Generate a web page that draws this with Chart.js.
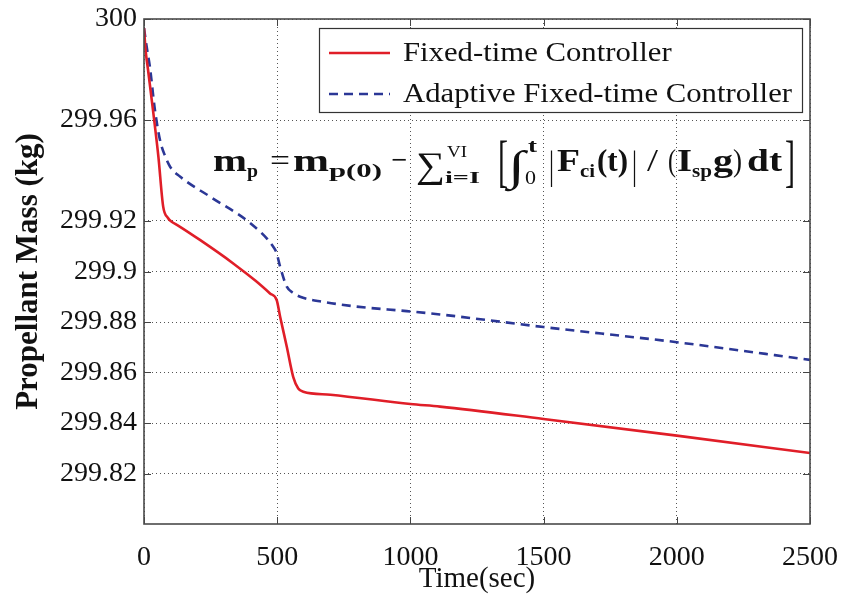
<!DOCTYPE html>
<html><head><meta charset="utf-8">
<script src="https://cdn.jsdelivr.net/npm/chart.js@4"></script>
<style>html,body{margin:0;padding:0;background:#fff}#wrap{width:844px;height:598px}</style>
</head><body><div id="wrap"><canvas id="c" width="844" height="598"></canvas></div>
<script>
// ---- data ----
const fixedTime = [0, 6, 15, 35, 54, 72, 90, 104, 125, 210, 335, 420, 473, 498, 511, 536, 560, 579, 598, 700, 1000, 1111, 1500, 2000, 2500];
const fixedMass = [299.9964, 299.9877, 299.980, 299.9628, 299.9455, 299.9257, 299.9212, 299.9197, 299.9184, 299.9125, 299.9032, 299.8962, 299.8913, 299.8887, 299.8821, 299.8702, 299.8583, 299.8537, 299.8524, 299.8512, 299.8475, 299.8465, 299.8416, 299.8350, 299.8281];
const adaptiveTime = [0, 10, 22, 41, 60, 80, 98, 135, 250, 398, 485, 498, 511, 536, 560, 586, 672, 798, 986, 1111, 1500, 2000, 2500];
const adaptiveMass = [299.9964, 299.989, 299.9811, 299.964, 299.9521, 299.9455, 299.9415, 299.9376, 299.9295, 299.9192, 299.9098, 299.9072, 299.9019, 299.894, 299.8915, 299.890, 299.888, 299.8861, 299.8843, 299.8830, 299.878, 299.872, 299.865];
const seriesNames = ['Fixed-time Controller', 'Adaptive Fixed-time Controller'];
const xTickValues = [0, 500, 1000, 1500, 2000, 2500];
const xTickLabels = ['0', '500', '1000', '1500', '2000', '2500'];
const yTickValues = [299.82, 299.84, 299.86, 299.88, 299.9, 299.92, 299.96, 300];
const yTickLabels = ['299.82', '299.84', '299.86', '299.88', '299.9', '299.92', '299.96', '300'];
const xTitle = 'Time(sec)';
const yTitle = 'Propellant Mass (kg)';

const SERIF = "'Liberation Serif','DejaVu Serif',serif";
const RED = '#e01e28';
const BLUE = '#2b3796';

const toXY = (ts, vs) => ts.map((t, i) => ({x: t, y: vs[i]}));

// formula pieces: text, x start, x end, font, baseline
const formulaPieces = [
  ['m', 213, 247, 'bold 31px', 171],
  ['p', 247, 258, 'bold 19px', 177],
  ['=', 270, 290, '32px', 171],
  ['m', 293, 329, 'bold 31px', 171],
  ['p(0)', 329, 382, 'bold 19px', 177],
  ['\u2212', 391, 407, '34px', 171],
  ['\u2211', 416, 445, '36px', 177],
  ['VI', 447, 467, '17px', 157],
  ['i=I', 445, 480, 'bold 17px', 183],
  ['[', 498, 508, '58px', 180],
  ['\u222B', 508, 525, '42px', 180],
  ['t', 528, 537, 'bold 18px', 152],
  ['0', 525, 536, '19px', 184],
  ['|', 549, 554, '40px', 178],
  ['F', 557, 580, 'bold 31px', 171],
  ['ci', 580, 595, 'bold 19px', 177],
  ['(t)', 597, 628, 'bold 31px', 171],
  ['|', 632, 637, '40px', 178],
  ['/', 647, 658, '31px', 171],
  ['(', 668, 676, '31px', 171],
  ['I', 677, 692, 'bold 31px', 171],
  ['sp', 692, 712, 'bold 19px', 177],
  ['g', 713, 733, 'bold 31px', 171],
  [')', 733, 742, '31px', 171],
  ['dt', 747, 782, 'bold 31px', 171],
  [']', 785, 795, '58px', 180]
];

const overlayPlugin = {
  id: 'overlay',
  afterDraw(chart) {
    const ctx = chart.ctx;
    const a = chart.chartArea;
    const xs = chart.scales.x, ys = chart.scales.y;
    ctx.save();
    // inward ticks
    ctx.strokeStyle = '#444'; ctx.lineWidth = 1;
    ctx.beginPath();
    xTickValues.forEach(v => {
      const px = Math.round(xs.getPixelForValue(v)) + 0.5;
      ctx.moveTo(px, a.bottom); ctx.lineTo(px, a.bottom - 7);
      ctx.moveTo(px, a.top); ctx.lineTo(px, a.top + 7);
    });
    yTickValues.forEach(v => {
      const py = Math.round(ys.getPixelForValue(v)) + 0.5;
      ctx.moveTo(a.left, py); ctx.lineTo(a.left + 7, py);
      ctx.moveTo(a.right, py); ctx.lineTo(a.right - 7, py);
    });
    ctx.stroke();
    // frame
    ctx.strokeStyle = '#4a4a4a'; ctx.lineWidth = 1.6;
    ctx.strokeRect(a.left, a.top, a.right - a.left, a.bottom - a.top);

    // legend
    const L = {x0: 319, y0: 28, x1: 802, y1: 112};
    ctx.fillStyle = '#fff';
    ctx.fillRect(L.x0, L.y0, L.x1 - L.x0, L.y1 - L.y0);
    ctx.strokeStyle = '#333'; ctx.lineWidth = 1.2;
    ctx.strokeRect(L.x0 + 0.5, L.y0 + 0.5, L.x1 - L.x0, L.y1 - L.y0);
    const rows = [
      {y: 53, color: RED, dash: []},
      {y: 94, color: BLUE, dash: [9, 6]}
    ];
    ctx.font = '27px ' + SERIF;
    const sx = 389 / ctx.measureText(seriesNames[1]).width;
    rows.forEach((r, i) => {
      ctx.strokeStyle = r.color; ctx.lineWidth = 2.5; ctx.setLineDash(r.dash);
      ctx.beginPath(); ctx.moveTo(329, r.y); ctx.lineTo(390, r.y); ctx.stroke();
      ctx.setLineDash([]);
      ctx.save();
      ctx.translate(403, r.y + 1);
      ctx.scale(sx, 1);
      ctx.fillStyle = '#111'; ctx.textBaseline = 'middle'; ctx.textAlign = 'left';
      ctx.fillText(seriesNames[i], 0, 0);
      ctx.restore();
    });

    // formula
    ctx.fillStyle = '#111'; ctx.textBaseline = 'alphabetic'; ctx.textAlign = 'left';
    formulaPieces.forEach(p => {
      const [t, x0, x1, f, y] = p;
      ctx.font = f + ' ' + SERIF;
      const w = ctx.measureText(t).width;
      ctx.save();
      ctx.translate(x0, y);
      ctx.scale((x1 - x0) / w, 1);
      ctx.fillText(t, 0, 0);
      ctx.restore();
    });
    ctx.restore();
  }
};

new Chart(document.getElementById('c'), {
  type: 'line',
  data: {
    datasets: [
      {label: seriesNames[0], data: toXY(fixedTime, fixedMass), borderColor: RED, borderWidth: 2.6,
       pointRadius: 0, fill: false, cubicInterpolationMode: 'monotone'},
      {label: seriesNames[1], data: toXY(adaptiveTime, adaptiveMass), borderColor: BLUE, borderWidth: 2.6,
       borderDash: [9, 6], pointRadius: 0, fill: false, cubicInterpolationMode: 'monotone'}
    ]
  },
  options: {
    responsive: false,
    animation: false,
    devicePixelRatio: 1,
    layout: {padding: {top: 19, right: 34, left: 0, bottom: 0}},
    plugins: {legend: {display: false}, tooltip: {enabled: false}},
    scales: {
      x: {
        type: 'linear', min: 0, max: 2500,
        afterBuildTicks: s => { s.ticks = xTickValues.map(v => ({value: v})); },
        afterFit: s => { s.height = 74; s.paddingLeft = 0; s.paddingRight = 0; },
        ticks: {autoSkip: false, maxRotation: 0, padding: 17, color: '#111', font: {family: SERIF, size: 28},
                callback: (v, i) => xTickLabels[i]},
        grid: {color: '#555', lineWidth: 1, drawTicks: false},
        border: {display: false, dash: [1, 3]},
        title: {display: true, text: xTitle, color: '#111', font: {family: SERIF, size: 29}, padding: {top: 0, bottom: 1}}
      },
      y: {
        type: 'linear', min: 299.80, max: 300,
        afterBuildTicks: s => { s.ticks = yTickValues.map(v => ({value: v})); },
        afterFit: s => { s.width = 144; s.paddingTop = 0; s.paddingBottom = 0; },
        ticks: {autoSkip: false, padding: 7, color: '#111', font: {family: SERIF, size: 28},
                callback: (v, i) => yTickLabels[i]},
        grid: {color: '#555', lineWidth: 1, drawTicks: false},
        border: {display: false, dash: [1, 3]},
        title: {display: true, text: yTitle, color: '#111', font: {family: SERIF, size: 31, weight: 'bold'}, padding: {top: 10, bottom: 0}}
      }
    }
  },
  plugins: [overlayPlugin]
});
</script>
</body></html>
